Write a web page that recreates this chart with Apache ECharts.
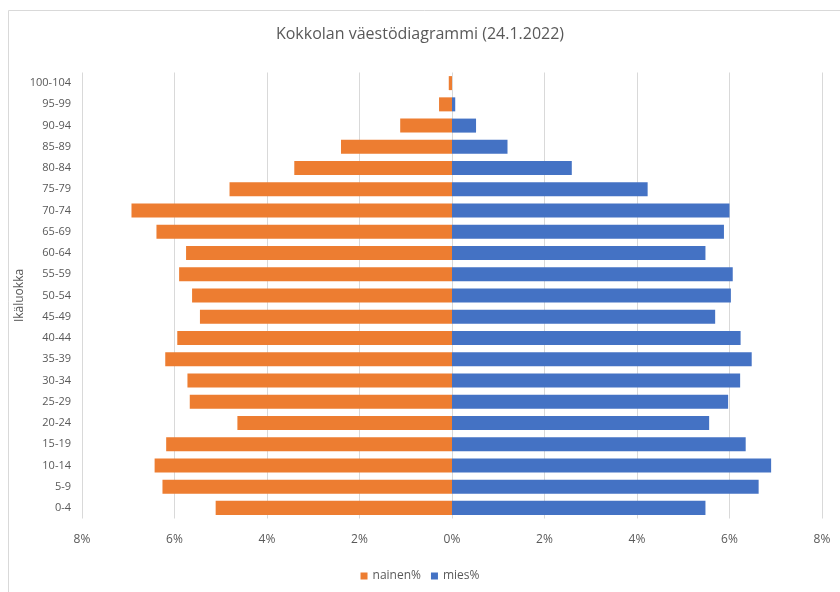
<!DOCTYPE html>
<html>
<head>
<meta charset="utf-8">
<script src="https://cdn.jsdelivr.net/npm/echarts@6/dist/echarts.min.js"></script>
<style>html,body{margin:0;padding:0;background:#fff}#c{width:840px;height:592px}</style>
</head>
<body>
<div id="c"></div>
<script>
const categories = ['0-4','5-9','10-14','15-19','20-24','25-29','30-34','35-39','40-44','45-49','50-54','55-59','60-64','65-69','70-74','75-79','80-84','85-89','90-94','95-99','100-104'];
const nainen = [5.11,6.26,6.43,6.18,4.64,5.67,5.72,6.20,5.94,5.45,5.62,5.90,5.75,6.39,6.93,4.81,3.41,2.40,1.12,0.28,0.07];
const mies = [5.48,6.63,6.90,6.35,5.56,5.97,6.23,6.48,6.24,5.69,6.03,6.07,5.48,5.88,6.00,4.23,2.59,1.20,0.52,0.07,0];
const xTicks = [-8,-6,-4,-2,0,2,4,6,8];

const font = '"Open Sans", "Noto Sans", sans-serif';
const chart = echarts.init(document.getElementById('c'), null, {renderer:'canvas'});
chart.setOption({
  animation:false,
  textStyle:{fontFamily:font},
  graphic:[{type:'rect',shape:{x:8.5,y:10.5,width:840,height:600},style:{fill:'none',stroke:'#d9d9d9',lineWidth:1},silent:true,z:-1}],
  title:{text:'Kokkolan väestödiagrammi (24.1.2022)',left:'center',top:21,textStyle:{fontFamily:font,fontSize:16,fontWeight:'normal',color:'#595959'}},
  legend:{bottom:5,left:'center',itemWidth:7,itemHeight:7,itemGap:10,icon:'rect',textStyle:{fontFamily:font,fontSize:12,color:'#595959'},data:['nainen%','mies%']},
  grid:{left:82,right:18,top:72.5,bottom:73.5,containLabel:false},
  xAxis:{type:'value',min:xTicks[0],max:xTicks[xTicks.length-1],interval:2,
    axisLine:{show:false},axisTick:{show:false},
    splitLine:{lineStyle:{color:'#d9d9d9'}},
    axisLabel:{formatter:v=>Math.abs(v)+'%',color:'#595959',fontSize:12,margin:15,fontFamily:font}},
  yAxis:{type:'category',data:categories,name:'Ikäluokka',nameLocation:'middle',nameGap:62,nameRotate:90,nameMoveOverlap:false,
    nameTextStyle:{color:'#595959',fontSize:12,fontFamily:font,verticalAlign:'middle'},
    axisLine:{show:false},axisTick:{show:false},
    axisLabel:{color:'#595959',fontSize:11,margin:11,fontFamily:font}},
  series:[
    {name:'nainen%',type:'bar',stack:'a',barWidth:'66%',itemStyle:{color:'#ED7D31'},data:nainen.map(v=>-v)},
    {name:'mies%',type:'bar',stack:'a',barWidth:'66%',itemStyle:{color:'#4472C4'},data:mies}
  ]
});
</script>
</body>
</html>
